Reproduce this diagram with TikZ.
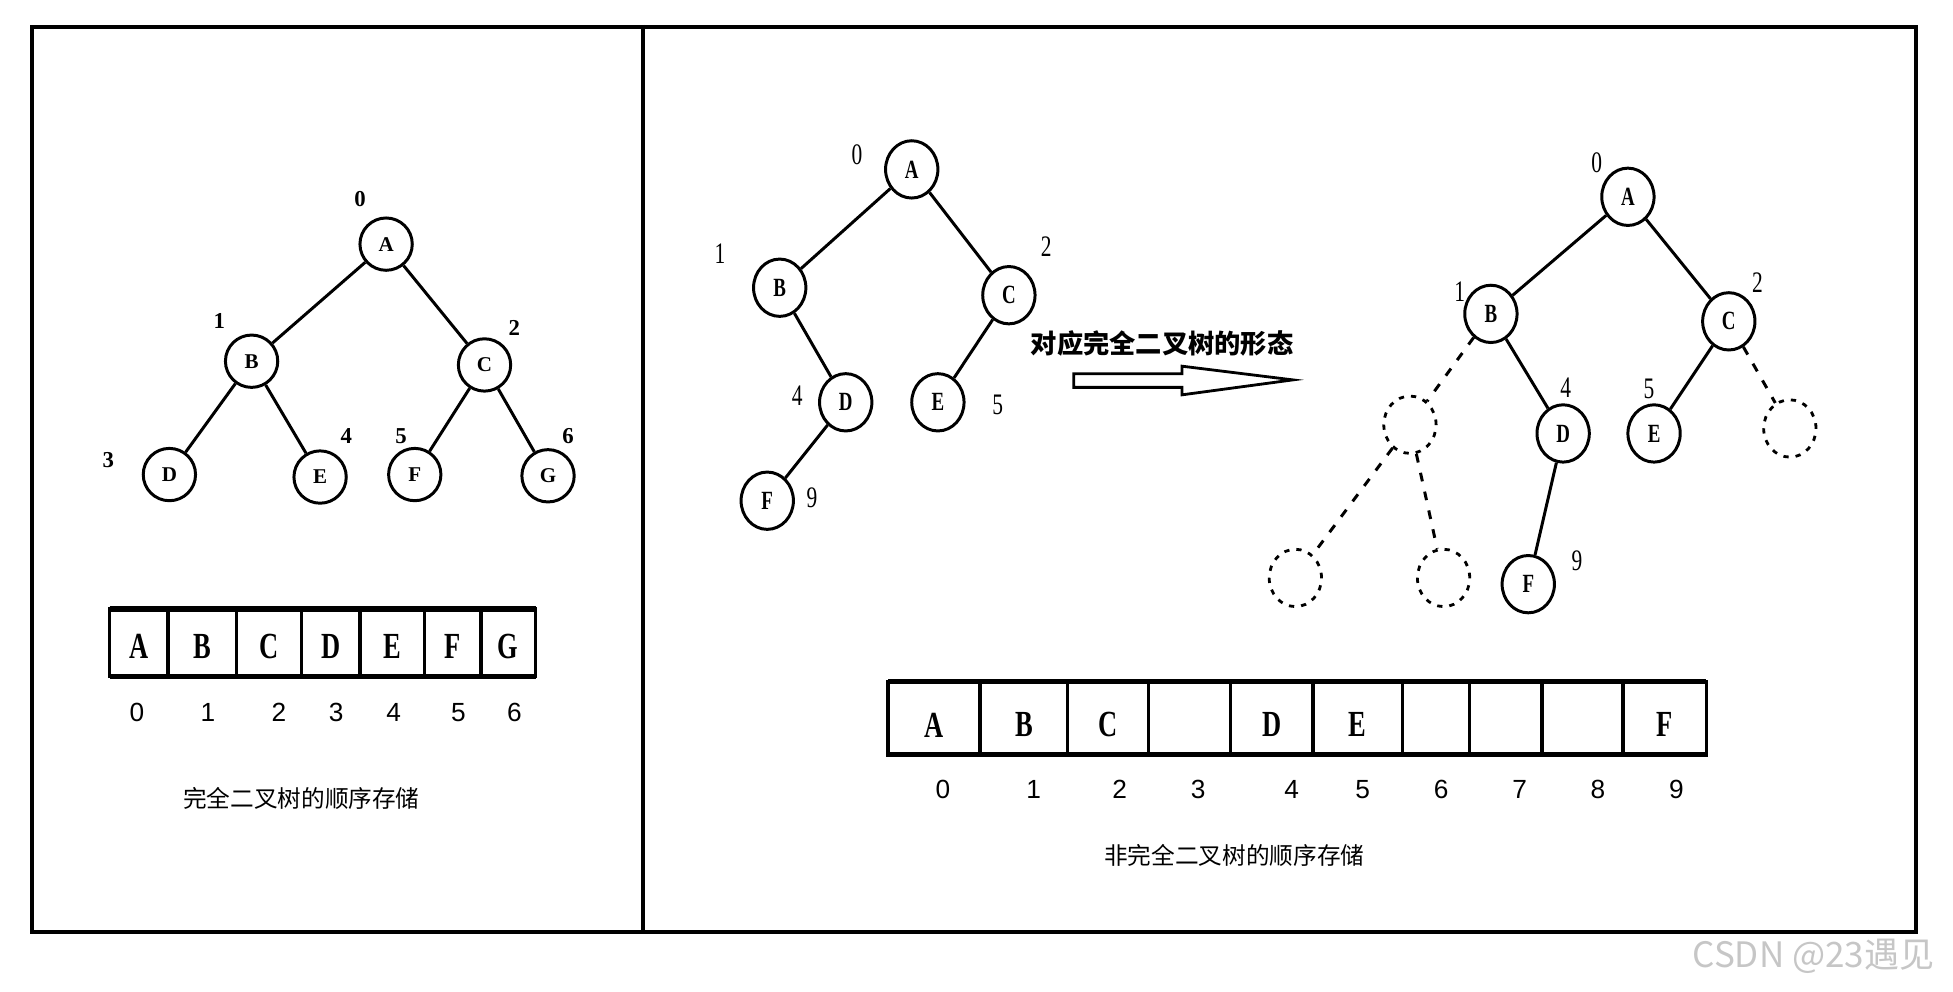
\documentclass[tikz,border=0pt]{standalone}
\usepackage{fontspec}
\setmainfont{Liberation Serif}
\setsansfont{Liberation Sans}
\newfontfamily\cjk{Noto Sans CJK SC}
\newfontfamily\narrowserif[FakeStretch=0.72]{Liberation Serif}
\usetikzlibrary{shapes.geometric}

\begin{document}
\begin{tikzpicture}[x=0.025cm, y=-0.025cm,
    vertex/.style={draw, circle, line width=1.7pt, minimum size=1.05cm, inner sep=0pt, font=\bfseries\fontsize{12}{12}\selectfont},
    tall/.style={draw, ellipse, line width=1.7pt, minimum width=1.05cm, minimum height=1.15cm, inner sep=0pt, font=\narrowserif\bfseries\fontsize{15}{15}\selectfont},
    ghost/.style={draw, ellipse, line width=1.6pt, dash pattern=on 3pt off 4pt, minimum width=1.05cm, minimum height=1.15cm, inner sep=0pt},
    num/.style={inner sep=0pt, font=\bfseries\fontsize{13}{13}\selectfont},
    rnum/.style={inner sep=0pt, font=\narrowserif\fontsize{17}{17}\selectfont},
    edge/.style={line width=1.7pt},
    ghostedge/.style={line width=1.7pt, dash pattern=on 5pt off 6pt},
    celltext/.style={font=\narrowserif\bfseries\fontsize{21}{21}\selectfont},
    idx/.style={font=\sffamily\fontsize{15}{15}\selectfont},
    caption/.style={font=\cjk\fontsize{13.5}{13.5}\selectfont}]

    \useasboundingbox (0,0) rectangle (1568,796);

    % outer frame and divider
    \draw[line width=2.2pt] (26,22) rectangle (1538,748);
    \draw[line width=2.2pt] (516,20) -- (516,748);

    % left panel: complete binary tree
    \node[vertex] (fA) at (310,196) {A};
    \node[vertex] (fB) at (202,290) {B};
    \node[vertex] (fC) at (389,293) {C};
    \node[vertex] (fD) at (136,381) {D};
    \node[vertex] (fE) at (257,383) {E};
    \node[vertex] (fF) at (333,381) {F};
    \node[vertex] (fG) at (440,382) {G};
    \draw[edge] (fA) -- (fB);
    \draw[edge] (fA) -- (fC);
    \draw[edge] (fB) -- (fD);
    \draw[edge] (fB) -- (fE);
    \draw[edge] (fC) -- (fF);
    \draw[edge] (fC) -- (fG);
    \node[num] (f0) at (289,160) {0};
    \node[num] (f1) at (176,258) {1};
    \node[num] (f2) at (413,263) {2};
    \node[num] (f3) at (87,369) {3};
    \node[num] (f4) at (278,350) {4};
    \node[num] (f5) at (322,350) {5};
    \node[num] (f6) at (456,350) {6};

    % left panel: array
    \foreach \xa/\xb/\t [count=\i from 0] in {88/135/A, 135/190/B, 190/242/C, 242/289/D, 289/341/E, 341/386/F, 386/430/G} {
        \draw[line width=2pt] (\xa,489) rectangle (\xb,543);
        \node[celltext] (fc\i) at ({(\xa+\xb)/2},519) {\t};
    }
    \draw[line width=3pt] (88,489) -- (430,489);
    \draw[line width=3pt] (88,543) -- (430,543);
    \foreach \x [count=\i from 0] in {110,167,224,270,316,368,413}
        \node[idx] (fi\i) at (\x,572) {\i};
    \node[caption] (fcap) at (242,641) {完全二叉树的顺序存储};

    % right panel: incomplete binary tree
    \node[tall] (nA) at (732,136) {A};
    \node[tall] (nB) at (626,231) {B};
    \node[tall] (nC) at (810,237) {C};
    \node[tall] (nD) at (679,323) {D};
    \node[tall] (nE) at (753,323) {E};
    \node[tall] (nF) at (616,402) {F};
    \draw[edge] (nA) -- (nB);
    \draw[edge] (nA) -- (nC);
    \draw[edge] (nB) -- (nD);
    \draw[edge] (nC) -- (nE);
    \draw[edge] (nD) -- (nF);
    \node[rnum] (n0) at (688,124) {0};
    \node[rnum] (n1) at (578,204) {1};
    \node[rnum] (n2) at (840,198) {2};
    \node[rnum] (n4) at (640,318) {4};
    \node[rnum] (n5) at (801,325) {5};
    \node[rnum] (n9) at (652,400) {9};

    % arrow to the matching complete tree
    \node[font=\cjk\bfseries\fontsize{15}{15}\selectfont] (form) at (933,276) {对应完全二叉树的形态};
    \draw[line width=1.6pt, fill=white] (862,300) -- (949,300) -- (949,294) -- (1038,305)
        -- (949,317) -- (949,311) -- (862,311) -- cycle;

    % matching complete tree with empty places
    \node[tall] (mA) at (1307,158) {A};
    \node[tall] (mB) at (1197,252) {B};
    \node[tall] (mC) at (1388,258) {C};
    \node[tall] (mD) at (1255,348) {D};
    \node[tall] (mE) at (1328,348) {E};
    \node[tall] (mF) at (1227,469) {F};
    \node[ghost] (m3) at (1132,341) {};
    \node[ghost] (m6) at (1437,344) {};
    \node[ghost] (m7) at (1040,464) {};
    \node[ghost] (m8) at (1159,464) {};
    \draw[edge] (mA) -- (mB);
    \draw[edge] (mA) -- (mC);
    \draw[edge] (mB) -- (mD);
    \draw[edge] (mC) -- (mE);
    \draw[edge] (mD) -- (mF);
    \draw[ghostedge] (mB) -- (m3);
    \draw[ghostedge] (mC) -- (m6);
    \draw[ghostedge] (m3) -- (m7);
    \draw[ghostedge] (m3) -- (m8);
    \node[rnum] (m0) at (1282,131) {0};
    \node[rnum] (m1) at (1172,234) {1};
    \node[rnum] (m2) at (1411,227) {2};
    \node[rnum] (m4) at (1257,311) {4};
    \node[rnum] (m5) at (1324,312) {5};
    \node[rnum] (m9) at (1266,450) {9};

    % right panel: array
    \foreach \xa/\xb/\t [count=\i from 0] in {713/787/A, 787/857/B, 857/922/C, 922/988/{}, 988/1054/D,
            1054/1126/E, 1126/1180/{}, 1180/1238/{}, 1238/1303/{}, 1303/1370/F} {
        \draw[line width=2pt] (\xa,547) rectangle (\xb,606);
        \node[celltext] (nc\i) at ({(\xa+\xb)/2},582) {\t};
    }
    \draw[line width=3pt] (713,547) -- (1370,547);
    \draw[line width=3pt] (713,606) -- (1370,606);
    \foreach \x [count=\i from 0] in {757,830,899,962,1037,1094,1157,1220,1283,1346}
        \node[idx] (ni\i) at (\x,634) {\i};
    \node[caption] (ncap) at (991,687) {非完全二叉树的顺序存储};

    % watermark
    \node[font=\cjk\fontsize{20}{20}\selectfont, text=gray!45] (mark) at (1456,768) {CSDN @23遇见};

\end{tikzpicture}
\end{document}
